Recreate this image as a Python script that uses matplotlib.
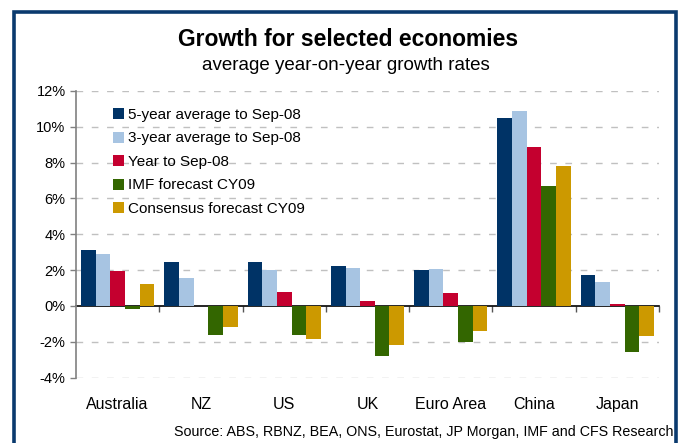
import matplotlib
matplotlib.use("Agg")
import matplotlib.pyplot as plt
from matplotlib.patches import Rectangle
import numpy as np

plt.rcParams['font.family'] = ['Liberation Sans', 'DejaVu Sans']

# growth rates, % year-on-year
economies = ['Australia', 'NZ', 'US', 'UK', 'Euro Area', 'China', 'Japan']
avg_5yr = [3.1, 2.45, 2.45, 2.2, 2.0, 10.5, 1.75]
avg_3yr = [2.9, 1.55, 2.0, 2.1, 2.05, 10.9, 1.35]
year_to_sep08 = [1.95, 0.0, 0.8, 0.3, 0.7, 8.9, 0.08]
imf_cy09 = [-0.2, -1.6, -1.6, -2.8, -2.0, 6.7, -2.6]
consensus_cy09 = [1.2, -1.2, -1.85, -2.2, -1.4, 7.8, -1.7]

series = [
    ('5-year average to Sep-08', avg_5yr, '#003366'),
    ('3-year average to Sep-08', avg_3yr, '#A7C4E2'),
    ('Year to Sep-08', year_to_sep08, '#C4002F'),
    ('IMF forecast CY09', imf_cy09, '#336600'),
    ('Consensus forecast CY09', consensus_cy09, '#CC9900'),
]
y_ticks = [-4, -2, 0, 2, 4, 6, 8, 10, 12]

W, H = 680, 443
fig = plt.figure(figsize=(W / 100, H / 100), dpi=100)
fig.patch.set_facecolor('white')

# axes box in pixel terms: x 76..659, y 91..377.5
ax = fig.add_axes([76 / W, 1 - 377.5 / H, (659 - 76) / W, (377.5 - 91) / H])

x = np.arange(len(economies))
bw = 0.176
handles = []
for k, (label, vals, col) in enumerate(series):
    b = ax.bar(x + (k - 2) * bw, vals, width=bw, color=col, label=label, zorder=3)
    handles.append(b)

ax.set_xlim(-0.5, len(economies) - 0.5)
ax.set_ylim(-4, 12)
ax.set_yticks(y_ticks)
ax.set_yticklabels([f'{v}%' for v in y_ticks], fontsize=10.5)

# dashed gridlines except at zero
for v in y_ticks:
    if v != 0:
        ax.axhline(v, color='#C0C0C0', lw=1.0, dashes=(4.8, 6.2), zorder=1)

for s in ['top', 'right', 'bottom']:
    ax.spines[s].set_visible(False)
ax.spines['left'].set_color('#808080')
ax.spines['left'].set_linewidth(1.2)
ax.tick_params(axis='y', length=4.5, width=1, color='#808080', pad=3)

# category labels under the plot
ax.set_xticks(x)
ax.set_xticklabels(economies, fontsize=11.5)
ax.tick_params(axis='x', length=0, pad=14)

# zero line with boundary ticks
zero = ax.secondary_xaxis(0.25)
zero.spines['bottom'].set_color('black')
zero.spines['bottom'].set_linewidth(1.2)
zero.set_xticks(np.arange(0.5, len(economies), 1.0))
zero.tick_params(axis='x', length=4.5, width=1, color='#555555', labelbottom=False)

ax.legend(handles=handles, loc='upper left', bbox_to_anchor=(112.5 / W, 1 - 108 / H),
          bbox_transform=fig.transFigure, frameon=False, fontsize=11,
          handlelength=0.72, handleheight=0.72, handletextpad=0.3,
          labelspacing=0.62, borderpad=0, borderaxespad=0)

fig.text(348 / W, 1 - 40 / H, 'Growth for selected economies', ha='center', va='center',
         fontsize=16.5, fontweight='bold')
fig.text(346 / W, 1 - 65 / H, 'average year-on-year growth rates', ha='center', va='center',
         fontsize=13.5)
fig.text(673 / W, 1 - 432 / H,
         'Source: ABS, RBNZ, BEA, ONS, Eurostat, JP Morgan, IMF and CFS Research',
         ha='right', va='center', fontsize=10.3)

# navy frame running off the bottom edge
fig.patches.append(Rectangle((13.5 / W, -20 / H), (675.5 - 13.5) / W, (H + 20 - 12) / H,
                             transform=fig.transFigure, fill=False, edgecolor='#0A3A6E',
                             lw=2.6, clip_on=False))

fig.savefig('out.png', dpi=100)
